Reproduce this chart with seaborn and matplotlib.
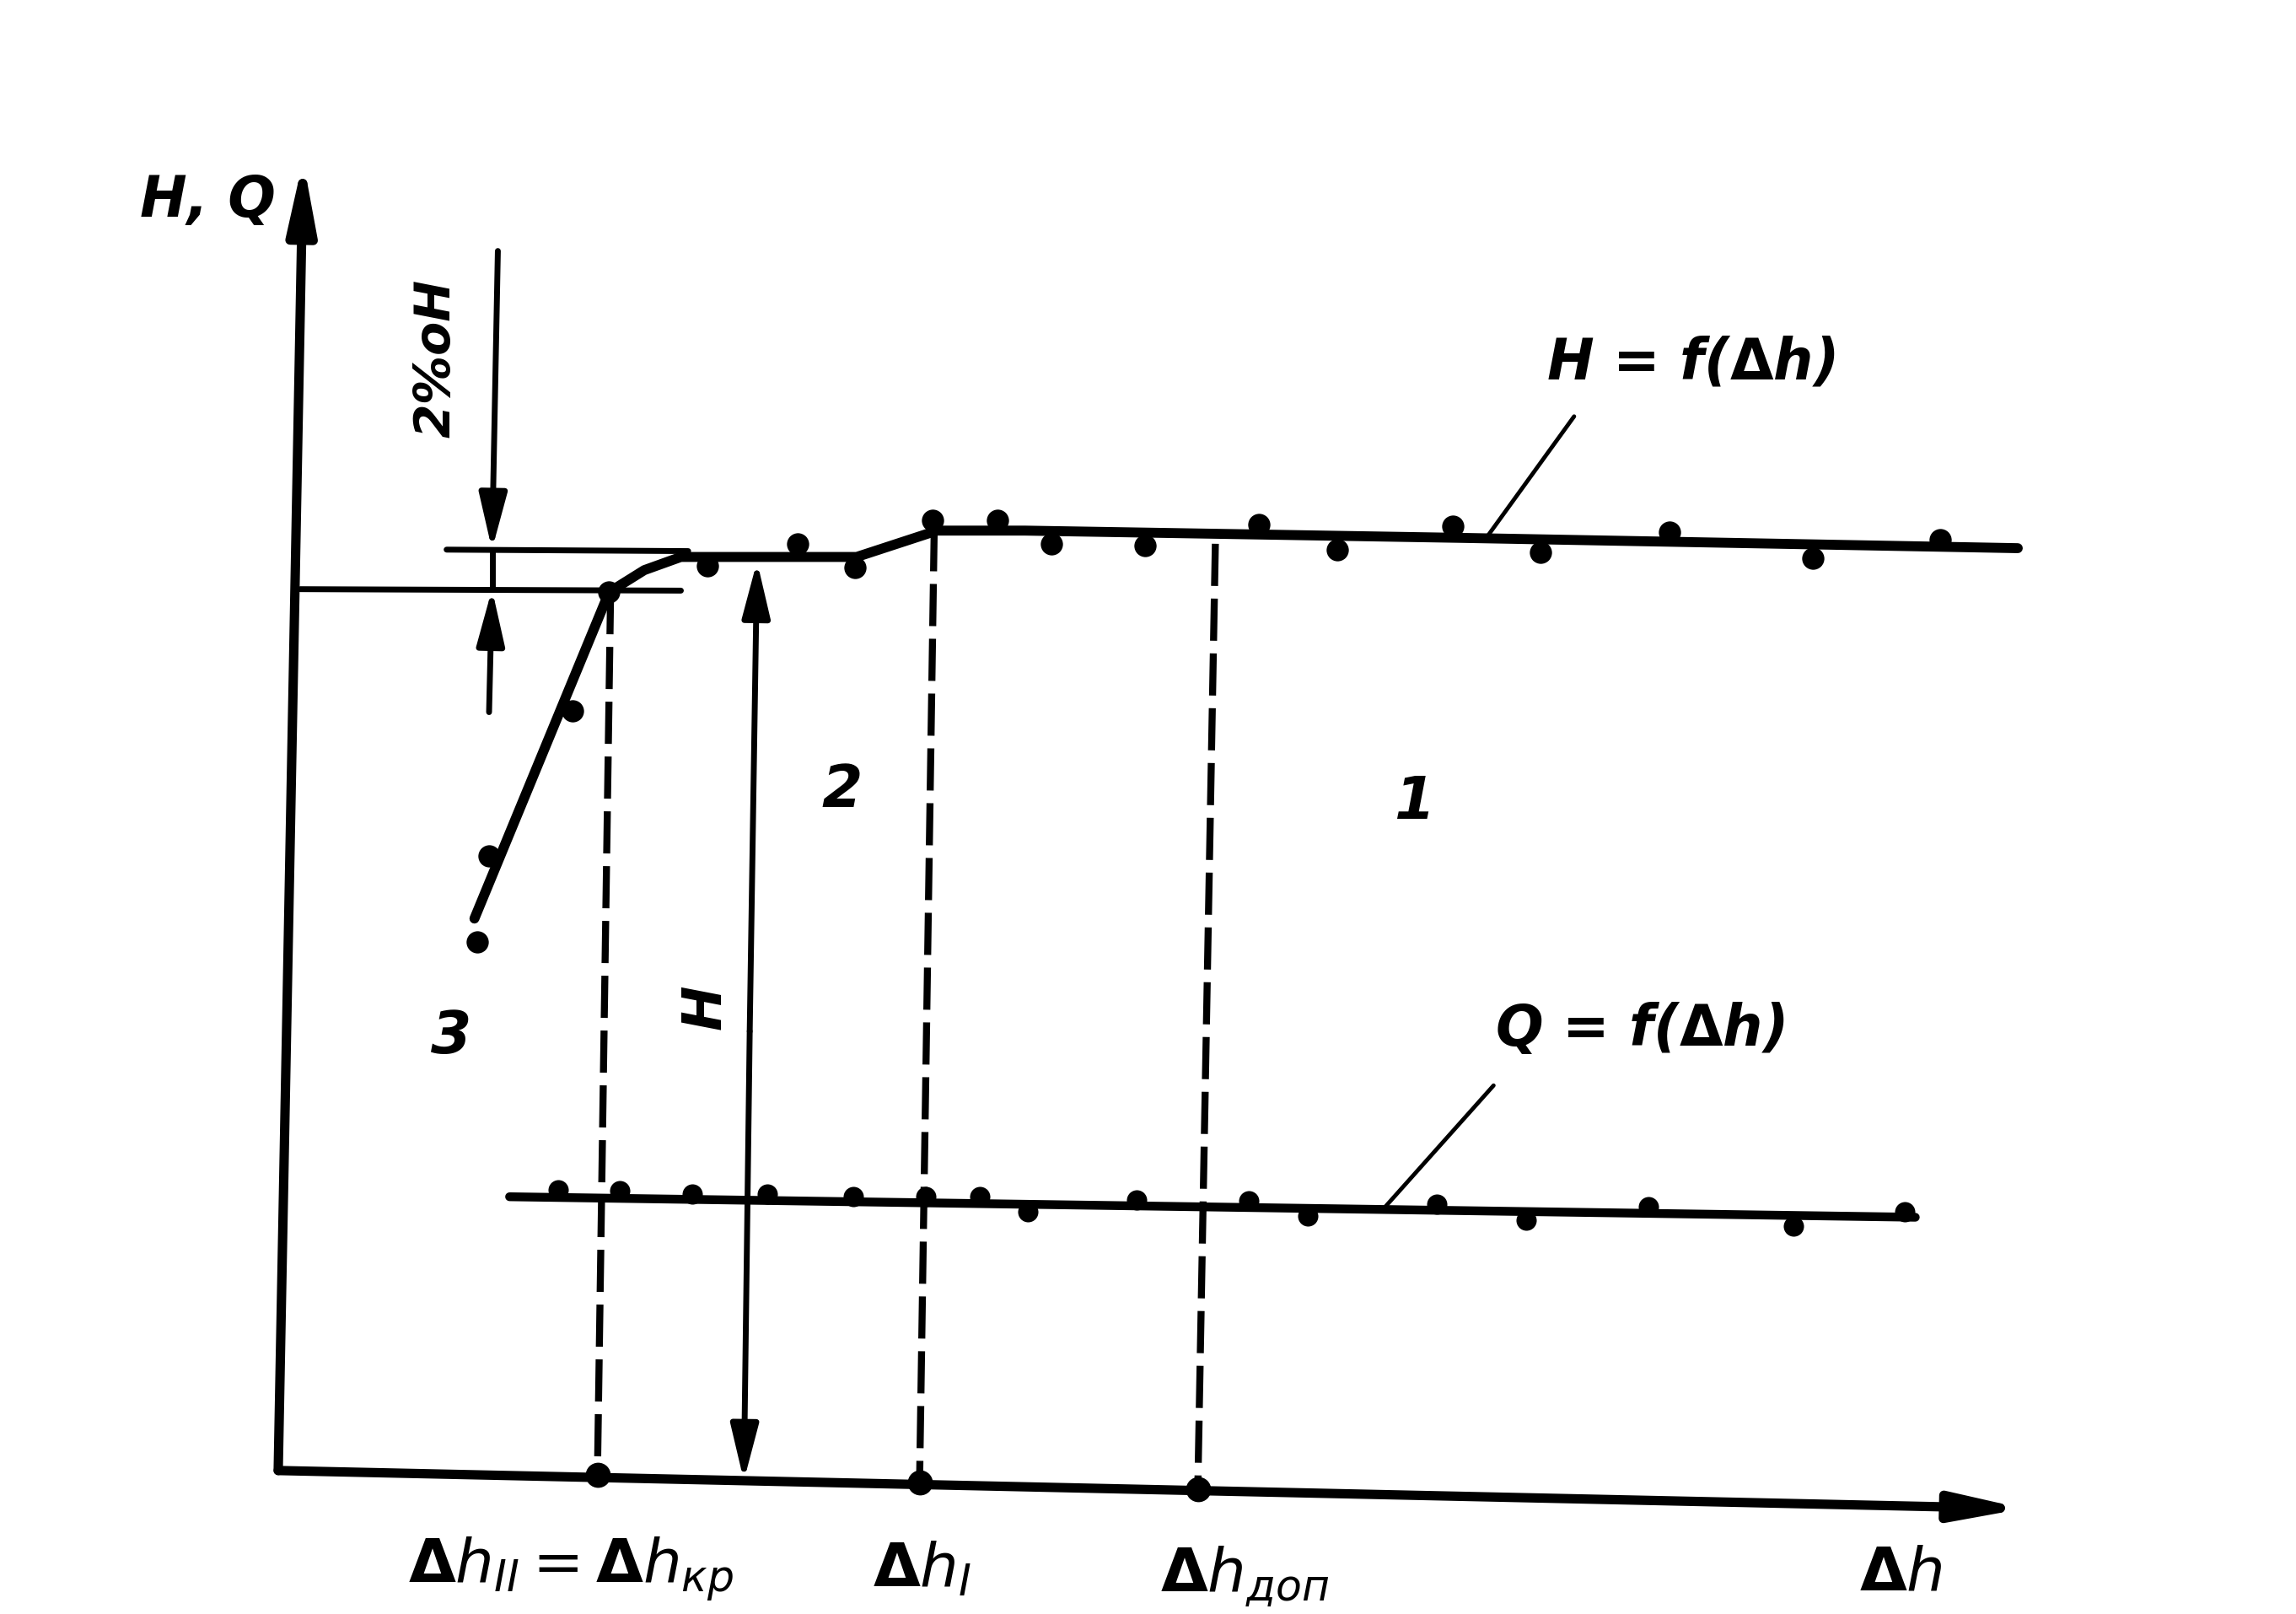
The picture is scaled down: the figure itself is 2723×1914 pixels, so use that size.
from matplotlib import pyplot as plt
import pandas as pd
import seaborn as sns

# cavitation characteristic of a pump
# (arbitrary units: dh along x, H / Q along y)

# H = f(dh) measured points
h_dh = [1.36, 1.44, 2.01, 2.26, 2.93, 3.55, 3.94, 4.47, 4.91, 5.28,
        5.92, 6.70, 7.23, 8.02, 8.62, 9.50, 10.48, 11.35]
h_val = [3.61, 4.20, 5.19, 6.00, 6.18, 6.33, 6.17, 6.49, 6.49, 6.33,
         6.32, 6.46, 6.29, 6.45, 6.27, 6.41, 6.23, 6.36]

# H = f(dh) drawn curve
hc_dh = [1.34, 2.26, 2.50, 2.75, 3.95, 4.50, 5.10, 8.10, 11.88]
hc_val = [3.77, 6.00, 6.15, 6.24, 6.24, 6.42, 6.42, 6.37, 6.30]

# Q = f(dh) measured points and curve
q_dh = [1.91, 2.33, 2.83, 3.34, 3.93, 4.42, 4.79, 5.12, 5.86, 6.63,
        7.03, 7.91, 8.52, 9.36, 10.35, 11.11]
q_val = [1.92, 1.91, 1.89, 1.89, 1.87, 1.87, 1.87, 1.77, 1.85, 1.84,
         1.74, 1.82, 1.71, 1.80, 1.67, 1.77]
qc_dh = [1.58, 11.18]
qc_val = [1.87, 1.73]

# characteristic dh values (dashed verticals) : top and foot
crit_top_dh = [2.27, 4.48, 6.40]
crit_top_h = [6.00, 6.43, 6.33]
crit_foot_dh = [2.18, 4.38, 6.28]
crit_foot_h = [-0.03, -0.08, -0.13]

# level of H and level of H minus 2 %
h_ref_dh = [1.15, 2.80]
h_ref_val = [6.29, 6.28]
h_low_dh = [0.15, 2.75]
h_low_val = [6.02, 6.01]

# axes ends
x_axis_end = (11.92, -0.26)
y_axis_end = (0.17, 8.95)

sns.set_style("white")
plt.rcParams['font.family'] = ['DejaVu Sans']
plt.rcParams['mathtext.fontset'] = 'dejavusans'

fig = plt.figure(figsize=(27.23, 19.15), dpi=100)
ax = fig.add_axes([0, 0, 1, 1])
ax.set_xlim(-1.90, 13.78)
ax.set_ylim(-0.98, 10.05)
ax.set_axis_off()

ink = 'black'
txt = dict(color=ink, style='italic', family=['DejaVu Sans'])

# axes with arrows
arrow_kw = dict(arrowstyle='-|>,head_length=2.2,head_width=0.45',
                color=ink, lw=8, shrinkA=0, shrinkB=0, mutation_scale=22)
ax.annotate('', xy=x_axis_end, xytext=(0, 0), arrowprops=arrow_kw)
ax.annotate('', xy=y_axis_end, xytext=(0, 0), arrowprops=arrow_kw)

# curves
curves = pd.DataFrame({'dh': hc_dh, 'val': hc_val})
sns.lineplot(data=curves, x='dh', y='val', ax=ax, color=ink, lw=8.5,
             sort=False, estimator=None)
qcurve = pd.DataFrame({'dh': qc_dh, 'val': qc_val})
sns.lineplot(data=qcurve, x='dh', y='val', ax=ax, color=ink, lw=7.5,
             sort=False, estimator=None)

# reference lines H and 0.98 H
ax.plot(h_ref_dh, h_ref_val, color=ink, lw=5, solid_capstyle='round')
ax.plot(h_low_dh, h_low_val, color=ink, lw=5, solid_capstyle='round')

# points
sns.scatterplot(x=h_dh, y=h_val, ax=ax, color=ink, s=360, linewidth=0,
                zorder=5)
sns.scatterplot(x=q_dh, y=q_val, ax=ax, color=ink, s=300, linewidth=0,
                zorder=5)
sns.scatterplot(x=crit_foot_dh, y=crit_foot_h, ax=ax, color=ink, s=460,
                linewidth=0, zorder=5)

# dashed verticals
for x0, y0, x1, y1 in zip(crit_top_dh, crit_top_h, crit_foot_dh,
                          crit_foot_h):
    ax.plot([x0, x1], [y0, y1], color=ink, lw=6, ls=(0, (6, 1.8)))

# dimension H (double arrow)
dim_kw = dict(arrowstyle='-|>,head_length=2.0,head_width=0.5',
              color=ink, lw=5, shrinkA=0, shrinkB=0, mutation_scale=20)
ax.annotate('', xy=(3.27, 6.21), xytext=(3.22, 3.0), arrowprops=dim_kw)
ax.annotate('', xy=(3.18, -0.07), xytext=(3.22, 3.0), arrowprops=dim_kw)
ax.text(2.92, 3.17, 'H', rotation=90, ha='center', va='center',
        fontsize=46, weight='bold', **txt)

# dimension 2 % of H
ax.annotate('', xy=(1.46, 6.29), xytext=(1.50, 8.33), arrowprops=dim_kw)
ax.annotate('', xy=(1.46, 6.02), xytext=(1.44, 5.18), arrowprops=dim_kw)
ax.plot([1.46, 1.46], [6.02, 6.29], color=ink, lw=5)
ax.text(1.08, 7.60, '2%oH', rotation=90, ha='center', va='center',
        fontsize=42, weight='bold', **txt)

# leader lines and curve names
ax.plot([8.85, 8.25], [7.20, 6.37], color=ink, lw=3.5)
ax.plot([8.30, 7.55], [2.63, 1.79], color=ink, lw=3.5)
ax.text(9.65, 7.57, r'H = f($\mathbf{\Delta}$h)', ha='center',
        va='center', fontsize=48, weight='bold', **txt)
ax.text(9.30, 3.02, r'Q = f($\mathbf{\Delta}$h)', ha='center',
        va='center', fontsize=48, weight='bold', **txt)

# zone numbers
ax.text(7.76, 4.57, '1', ha='center', va='center', fontsize=50,
        weight='bold', **txt)
ax.text(3.85, 4.65, '2', ha='center', va='center', fontsize=50,
        weight='bold', **txt)
ax.text(1.18, 2.97, '3', ha='center', va='center', fontsize=50,
        weight='bold', **txt)

# axis labels
ax.text(-0.48, 8.68, 'H, Q', ha='center', va='center', fontsize=48,
        weight='bold', **txt)
ax.text(2.00, -0.67, r'$\mathbf{\Delta} h_{II}=\mathbf{\Delta} h_{кр}$',
        ha='center', va='center', fontsize=52, color=ink)
ax.text(4.40, -0.67, r'$\mathbf{\Delta} h_{I}$', ha='center',
        va='center', fontsize=52, color=ink)
ax.text(6.60, -0.72, r'$\mathbf{\Delta} h_{доп}$', ha='center',
        va='center', fontsize=52, color=ink)
ax.text(11.08, -0.70, r'$\mathbf{\Delta} h$', ha='center', va='center',
        fontsize=52, color=ink)

fig.savefig('out.png', dpi=100, facecolor='white')
